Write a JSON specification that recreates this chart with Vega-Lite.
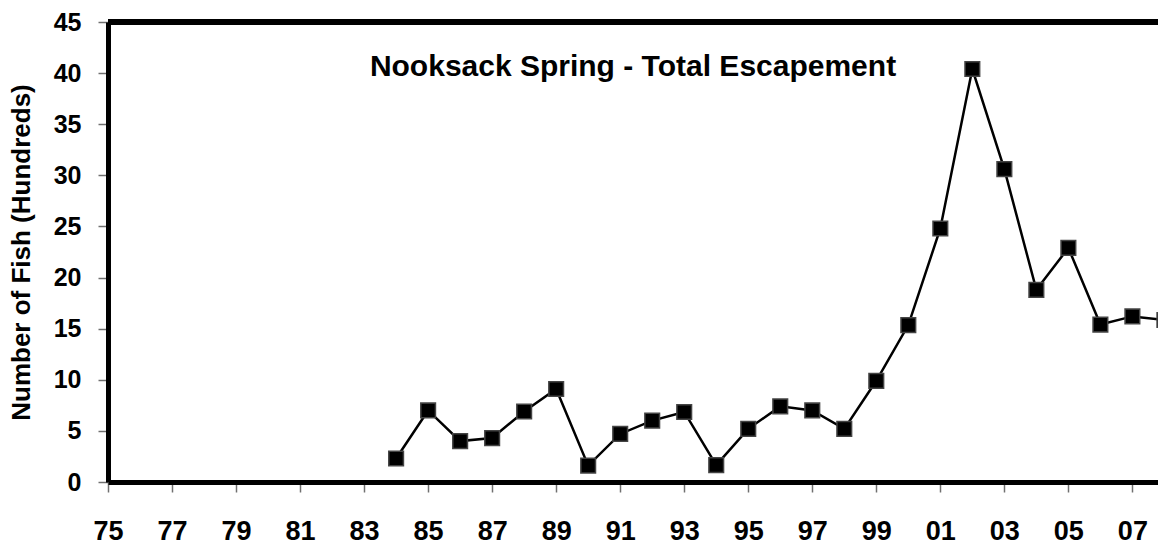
{
  "$schema": "https://vega.github.io/schema/vega-lite/v6.json",
  "autosize": {"type": "none"},
  "width": 1050,
  "height": 460,
  "padding": {"left": 108, "top": 22, "right": 0, "bottom": 63},
  "background": "white",
  "config": {"view": {"stroke": null}, "font": "Liberation Sans"},
  "title": {"text": "Nooksack Spring - Total Escapement", "anchor": "middle", "offset": -72, "fontSize": 30, "font": "Liberation Sans", "fontWeight": "bold", "color": "black"},
  "data": {"values": [
    {"year": 1984, "fish": 2.3},
    {"year": 1985, "fish": 7.0},
    {"year": 1986, "fish": 4.0},
    {"year": 1987, "fish": 4.3},
    {"year": 1988, "fish": 6.9},
    {"year": 1989, "fish": 9.1},
    {"year": 1990, "fish": 1.6},
    {"year": 1991, "fish": 4.7},
    {"year": 1992, "fish": 6.0},
    {"year": 1993, "fish": 6.85},
    {"year": 1994, "fish": 1.65},
    {"year": 1995, "fish": 5.2},
    {"year": 1996, "fish": 7.4},
    {"year": 1997, "fish": 7.0},
    {"year": 1998, "fish": 5.2},
    {"year": 1999, "fish": 9.9},
    {"year": 2000, "fish": 15.35},
    {"year": 2001, "fish": 24.8},
    {"year": 2002, "fish": 40.4},
    {"year": 2003, "fish": 30.6},
    {"year": 2004, "fish": 18.8},
    {"year": 2005, "fish": 22.9},
    {"year": 2006, "fish": 15.4},
    {"year": 2007, "fish": 16.2},
    {"year": 2008, "fish": 15.85}
  ]},
  "layer": [
    {
      "mark": {"type": "rule", "color": "black", "strokeWidth": 5},
      "encoding": {"y": {"datum": 45, "type": "quantitative"}}
    },
    {
      "mark": {"type": "line", "color": "black", "strokeWidth": 2.5, "clip": true},
      "encoding": {
        "x": {"field": "year", "type": "quantitative"},
        "y": {"field": "fish", "type": "quantitative"}
      }
    },
    {
      "mark": {"type": "point", "shape": "square", "size": 215, "filled": true, "fill": "black", "stroke": "#444444", "strokeWidth": 1.5, "opacity": 1, "clip": true},
      "encoding": {
        "x": {
          "field": "year", "type": "quantitative",
          "scale": {"domain": [1975, 2007.8], "nice": false, "zero": false},
          "axis": {
            "title": null,
            "values": [1975,1976,1977,1978,1979,1980,1981,1982,1983,1984,1985,1986,1987,1988,1989,1990,1991,1992,1993,1994,1995,1996,1997,1998,1999,2000,2001,2002,2003,2004,2005,2006,2007],
            "labelExpr": "datum.value % 2 == 1 ? substring(toString(datum.value), 2) : ''",
            "grid": false,
            "domainColor": "black", "domainWidth": 5,
            "tickColor": "#707070", "tickWidth": 1.5, "tickSize": 10,
            "labelFont": "Liberation Sans", "labelFontSize": 27, "labelFontWeight": "bold", "labelColor": "black",
            "labelPadding": 26, "labelOverlap": false, "labelFlush": false, "labelBound": false
          }
        },
        "y": {
          "field": "fish", "type": "quantitative",
          "scale": {"domain": [0, 45], "nice": false},
          "axis": {
            "title": "Number of Fish (Hundreds)",
            "titleFont": "Liberation Sans", "titleFontSize": 26, "titleFontWeight": "bold", "titleColor": "black", "titlePadding": 19,
            "values": [0,5,10,15,20,25,30,35,40,45],
            "grid": false,
            "domainColor": "black", "domainWidth": 5,
            "tickColor": "#707070", "tickWidth": 1.5, "tickSize": 10,
            "labelFont": "Liberation Sans", "labelFontSize": 25, "labelFontWeight": "bold", "labelColor": "black",
            "labelPadding": 17, "labelOverlap": false, "labelFlush": false
          }
        }
      }
    }
  ]
}
